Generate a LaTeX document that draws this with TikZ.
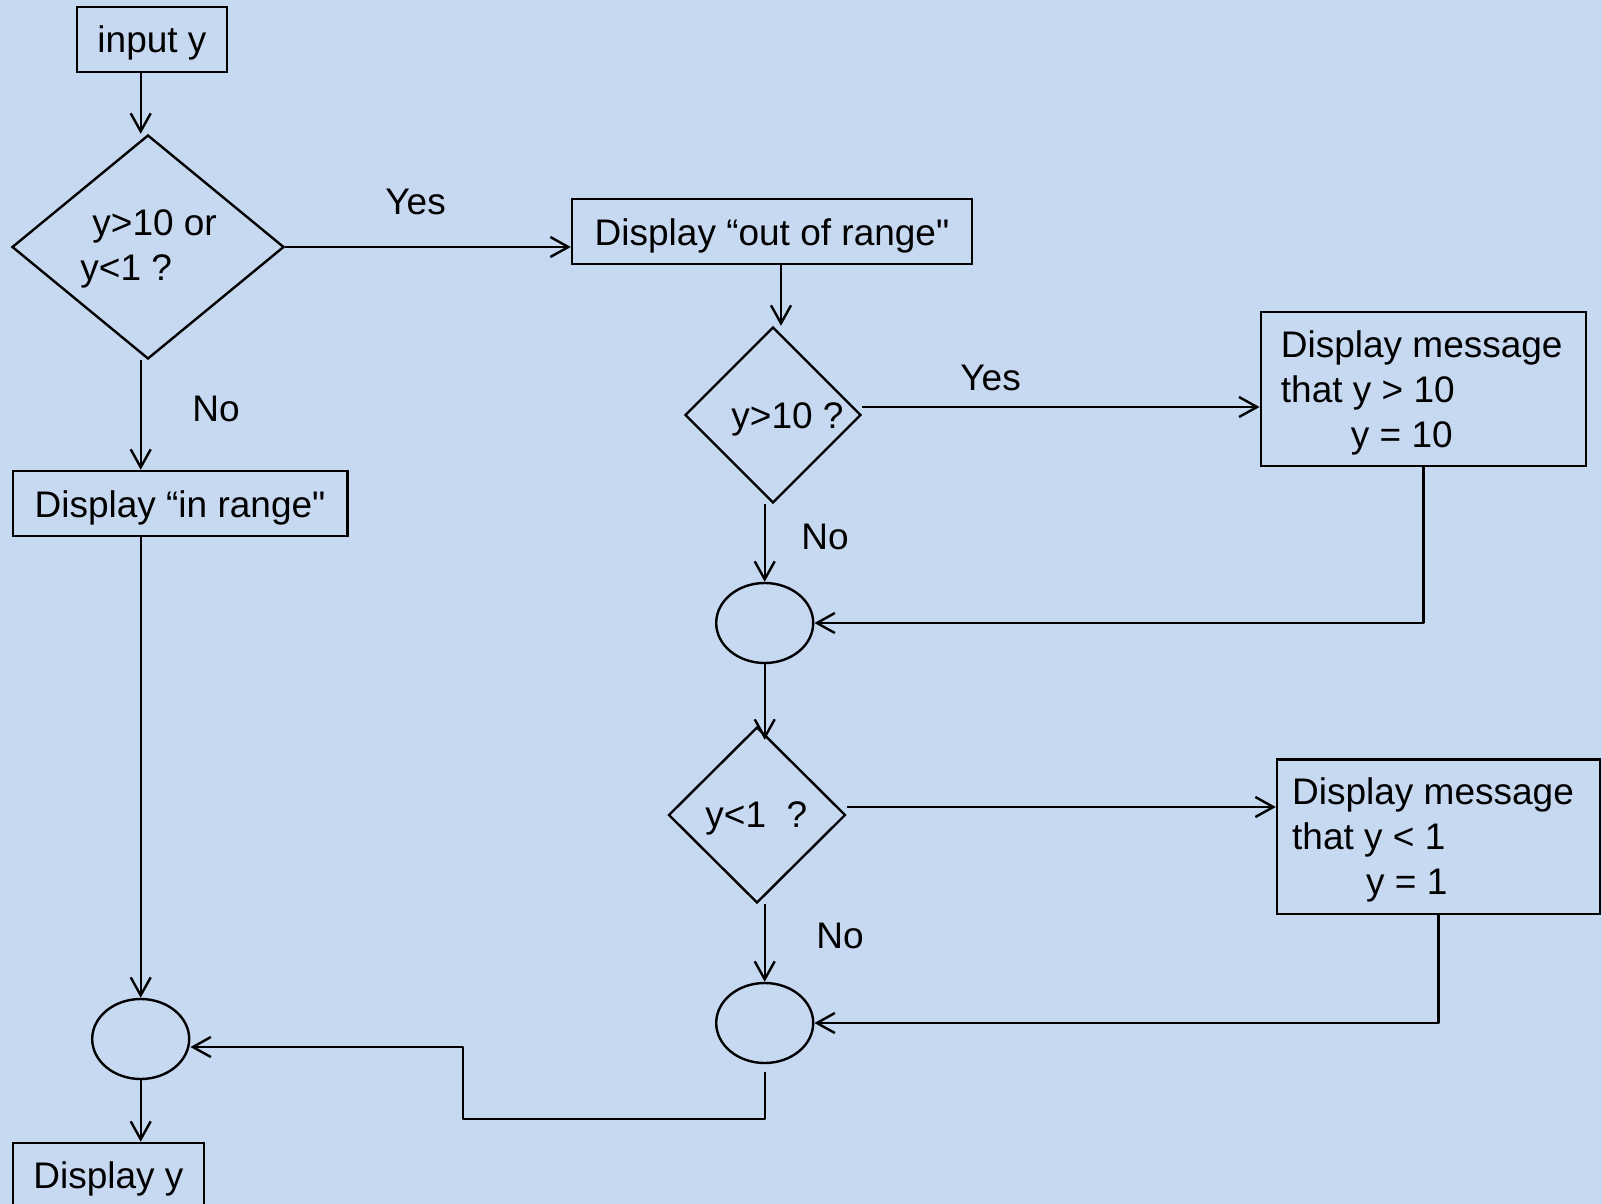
\documentclass[tikz,border=0pt]{standalone}
\usepackage{fontspec}
\setmainfont{Liberation Sans}[Ligatures=TeXOff]
\usetikzlibrary{arrows.meta,shapes.geometric}
\definecolor{paper}{RGB}{198,217,241}
\begin{document}
\begin{tikzpicture}[x=0.5pt,y=-0.5pt,
  every node/.style={font=\fontsize{18.5}{22.5}\selectfont, text=black},
  ink/.style={draw=black, line width=1.2pt},
  box/.style={ink, rectangle, inner sep=0pt, text height=13.5pt, text depth=0pt},
  decision/.style={ink, diamond, inner sep=0pt},
  joint/.style={ink, ellipse, inner sep=0pt, minimum width=48.5pt, minimum height=40pt},
  txt/.style={inner sep=0pt, align=left, anchor=north west},
  lbl/.style={inner sep=0pt, anchor=base west},
  arr/.style={ink, line join=round, -{Straight Barb[length=9pt,width=10pt]}}]

% page and background
\fill[paper] (0,0) rectangle (1602,1204);
\useasboundingbox (0,0) rectangle (1602,1204);

% left column
\node[box, minimum width=75pt, minimum height=32.5pt] (inp) at (152,39.5) {input y};
\node[decision, minimum width=136pt, minimum height=112pt] (d1) at (148,247) {};
\node[txt] (d1t) at (80,209.5) {\hspace*{6pt}y>10 or\\y<1 ?};
\node[box, minimum width=167.3pt, minimum height=32.5pt] (inb) at (180,503.5) {Display “in range"};
\node[joint] (c3) at (140.7,1039) {};
\node[box, minimum width=95.5pt, minimum height=31.5pt] (dy) at (108.4,1174.5) {Display y};

% middle column
\node[box, minimum width=200pt, minimum height=32.5pt] (out) at (772,231.5) {Display “out of range"};
\node[decision, minimum width=88pt, minimum height=88pt] (d2) at (773,415) {};
\node[lbl] (d2t) at (731,428) {y>10 ?};
\node[joint] (c1) at (764.7,623) {};
\node[decision, minimum width=88.5pt, minimum height=88pt] (d3) at (757,815) {};
\node[lbl] (d3t) at (705,827) {y<1~~?};
\node[joint] (c2) at (764.7,1023) {};

% right column
\node[box, minimum width=162.7pt, minimum height=77pt] (b3) at (1423.4,388.7) {};
\node[txt] (b3t) at ([shift={(21,19.3)}]b3.north west) {Display message\\that y > 10\\\hspace*{35pt}y = 10};
\node[box, minimum width=161.5pt, minimum height=77.3pt] (b4) at (1438.5,836.7) {};
\node[txt] (b4t) at ([shift={(16,18.7)}]b4.north west) {Display message\\that y < 1\\\hspace*{37pt}y = 1};

% branch labels
\node[lbl] (yes1) at (385,214) {Yes};
\node[lbl] (no1) at (192,421) {No};
\node[lbl] (yes2) at (960,390) {Yes};
\node[lbl] (no2) at (801,549) {No};
\node[lbl] (no3) at (816,948) {No};

% connectors
\draw[arr] (c3.north |- inp.south) -- (c3.north |- d1.north);
\draw[arr] (d1.east) -- (d1.east -| out.west);
\draw[arr] (c3.north |- d1.south) -- (c3.north |- inb.north);
\draw[arr] (c3.north |- inb.south) -- (c3.north);
\draw[arr] (c3.south) -- (c3.south |- dy.north);

\coordinate (bx) at (781,0);
\draw[arr] (bx |- out.south) -- (bx |- d2.north);
\draw[arr] ([yshift=4pt]d2.east) -- ([yshift=4pt]d2.east -| b3.west);
\draw[arr] (c1.north |- d2.south) -- (c1.north);
\draw[arr] (b3.south) -- (b3.south |- c1.east) -- (c1.east);
\draw[arr] (c1.south) -- ([yshift=-7pt]c1.south |- d3.north);
\draw[arr] ([yshift=4pt]d3.east) -- ([yshift=4pt]d3.east -| b4.west);
\draw[arr] (c2.north |- d3.south) -- (c2.north);
\draw[arr] (b4.south) -- (b4.south |- c2.east) -- (c2.east);

\coordinate (kb) at (463,1119);
\coordinate (kt) at (463,1047);
\draw[arr] ([yshift=-4pt]c2.south) -- (c2.south |- kb) -- (kb) -- (kt) -- (kt -| c3.east);
\end{tikzpicture}
\end{document}
